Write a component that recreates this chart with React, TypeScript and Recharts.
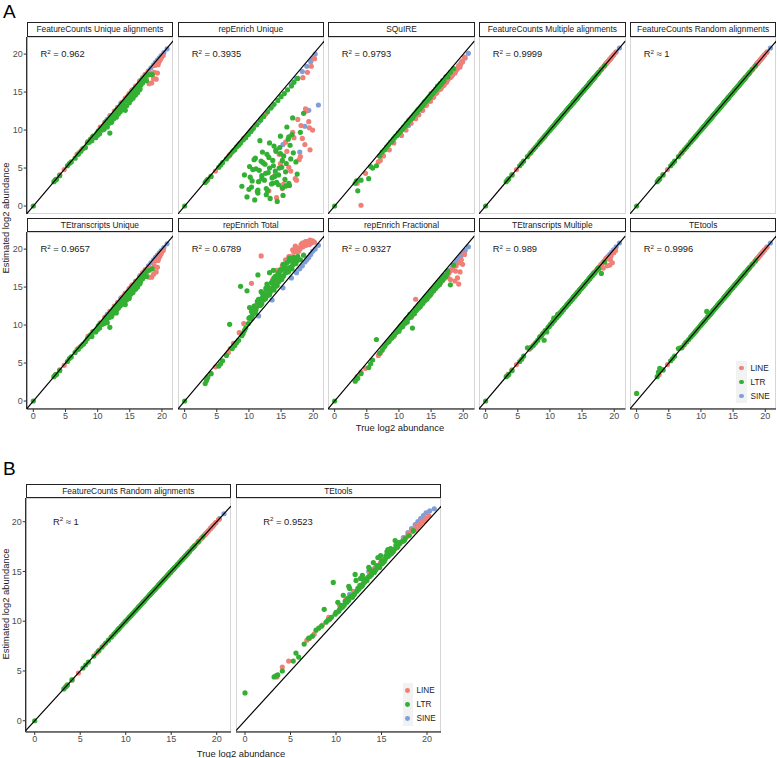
import { ScatterChart, Scatter, XAxis, YAxis } from "recharts";

const FONT = '"Liberation Sans", Arial, Helvetica, sans-serif';

const TYPES = ["LINE", "LTR", "SINE"];
const TYPE_COLORS: Record<string, string> = {
  LINE: "#F07F76",
  LTR: "#33B033",
  SINE: "#7F9FD9",
};
const AXIS_TICKS = [0, 5, 10, 15, 20];

// true log2 abundance per TE class (shared by every method)
const trueLINE = [
  3.5, 4.1, 4.8, 6.8, 7.1, 7.6, 8.5, 9.2, 10.4, 11.1, 11.9, 12.6, 13.1, 13.7, 14.3, 14.9,
  15.4, 15.9, 16.5, 17.0, 17.4, 17.8, 18.1, 18.4, 18.7, 18.9, 19.1, 19.3, 19.5, 19.7, 19.9, 20.2,
  14.1, 14.7, 15.2, 15.7, 16.2, 16.8, 17.2, 17.6, 18.0, 18.3, 18.8, 19.4,
];
const trueLTR = [
  0.0, 3.2, 3.4, 3.6, 4.1, 5.3, 5.6, 5.9, 6.5, 7.0,
  7.4, 7.8, 8.1, 8.4, 8.7, 8.9, 9.1, 9.3, 9.5, 9.7,
  9.9, 10.1, 10.3, 10.5, 10.7, 10.9, 11.0, 11.2, 11.4, 11.6,
  11.8, 12.0, 12.1, 12.3, 12.5, 12.7, 12.9, 13.0, 13.2, 13.4,
  13.5, 13.7, 13.9, 14.0, 14.2, 14.4, 14.5, 14.7, 14.9, 15.0,
  15.2, 15.4, 15.5, 15.7, 15.9, 16.0, 16.2, 16.4, 16.6, 16.8,
  17.0, 17.3, 17.6, 18.0, 18.5,
  10.0, 10.6, 11.3, 11.9, 12.4, 12.8, 13.3, 13.8, 14.3, 14.8, 15.3, 15.8, 16.3, 16.9, 17.5,
  10.2, 10.4, 10.8, 11.1, 11.5, 11.7, 12.2, 12.6, 12.9, 13.1,
  13.6, 13.9, 14.1, 14.6, 14.9, 15.1, 15.6, 16.1, 16.5, 16.7,
  11.4, 12.0, 12.7, 13.2, 13.7, 14.2, 14.6, 15.2, 15.7, 16.2,
];
const trueSINE = [11.5, 13.6, 15.3, 16.6, 17.4, 17.9, 18.3, 18.7, 19.0, 19.3, 19.6, 19.9, 20.3, 20.8];

// estimated log2 abundance, one set per method
const fcUniqueLINE = [
  3.5, 4.1, 4.8, 6.8, 7.0, 7.5, 8.5, 9.1, 10.4, 11.0, 11.9, 12.5, 13.0, 13.6, 14.2, 14.8,
  15.3, 15.8, 16.4, 16.9, 17.3, 17.6, 17.3, 16.2, 16.8, 18.5, 16.7, 17.5, 18.9, 19.2, 19.5, 19.8,
  13.8, 14.5, 14.9, 15.4, 15.9, 16.5, 16.6, 17.0, 16.1, 17.5, 17.6, 18.6,
];
const fcUniqueLTR = [
  0.0, 3.2, 3.4, 3.5, 4.0, 5.3, 5.6, 5.8, 6.3, 6.8,
  7.2, 7.6, 7.7, 8.3, 8.4, 8.8, 8.6, 9.2, 9.1, 9.0,
  9.6, 9.9, 9.5, 10.2, 10.0, 10.6, 10.1, 10.9, 10.5, 11.2,
  10.9, 11.6, 11.0, 11.9, 11.5, 12.3, 11.8, 12.7, 12.1, 13.0,
  12.4, 13.3, 12.7, 13.6, 13.0, 14.0, 13.2, 14.3, 13.6, 14.6,
  14.0, 15.0, 14.2, 15.3, 14.6, 15.6, 14.9, 16.0, 15.4, 16.4,
  16.2, 16.9, 16.5, 17.3, 17.3,
  9.3, 10.3, 11.1, 9.6, 12.0, 12.5, 12.5, 13.5, 12.6, 14.4, 14.5, 15.5, 15.4, 16.6, 17.2,
  9.8, 10.0, 10.1, 10.5, 10.4, 11.0, 11.1, 11.9, 11.7, 12.3,
  12.6, 13.2, 12.8, 13.9, 13.6, 14.2, 14.5, 15.1, 15.3, 15.9,
  10.9, 11.3, 12.1, 12.2, 13.0, 13.1, 14.1, 14.3, 14.8, 15.0,
];
const fcUniqueSINE = [11.4, 13.5, 15.2, 16.5, 17.3, 17.8, 18.2, 18.6, 18.9, 19.2, 19.5, 19.8, 20.2, 20.7];

const repUniqueLINE = [
  3.4, 3.9, 4.6, 6.5, 6.8, 7.3, 8.2, 8.9, 10.0, 10.7, 11.5, 12.1, 2.0, 3.8, 1.1, 5.6,
  2.9, 7.2, 4.6, 9.0, 3.4, 6.1, 10.6, 16.9, 8.1, 12.5, 17.6, 11.1, 7.4, 18.4, 10.0, 19.4,
  4.2, 6.8, 2.3, 8.4, 5.1, 9.7, 3.6, 11.4, 6.5, 8.9, 12.8, 10.3,
];
const repUniqueLTR = [
  0.0, 3.1, 3.3, 3.5, 3.9, 5.1, 5.4, 5.7, 6.2, 6.7,
  7.1, 7.4, 7.8, 8.0, 8.3, 2.6, 8.7, 4.1, 9.0, 1.2,
  9.4, 5.2, 9.8, 3.3, 10.2, 0.8, 6.3, 10.7, 2.1, 4.7,
  11.3, 3.6, 7.1, 11.8, 5.5, 1.5, 12.4, 4.4, 8.3, 12.9,
  2.9, 6.0, 13.4, 3.9, 7.4, 0.6, 13.9, 5.0, 9.2, 14.4,
  2.4, 6.6, 14.8, 4.5, 10.4, 15.3, 3.0, 8.0, 15.8, 11.6,
  16.3, 5.8, 16.8, 9.7, 12.2,
  2.2, 4.8, 1.9, 5.9, 3.4, 6.8, 1.0, 5.3, 3.1, 7.7, 1.4, 5.6, 2.7, 7.0, 4.2,
  3.8, 2.5, 6.1, 4.9, 3.2, 8.6, 5.7, 4.3, 2.0, 6.4,
  3.7, 7.9, 4.6, 2.8, 6.9, 5.1, 3.5, 8.8, 6.2, 9.4,
  1.7, 4.0, 2.3, 5.0, 3.0, 7.2, 4.1, 6.0, 2.6, 9.1,
];
const repUniqueSINE = [11.0, 13.1, 8.1, 16.0, 16.8, 7.1, 17.7, 10.5, 18.4, 12.6, 19.0, 19.4, 20.0, 13.3];

const squireLINE = [
  3.0, 0.1, 4.3, 5.8, 6.0, 6.6, 7.4, 8.3, 9.3, 10.0, 10.9, 11.5, 12.0, 12.6, 13.3, 13.8,
  14.4, 14.9, 15.4, 15.9, 16.3, 16.9, 17.0, 17.4, 17.5, 17.9, 18.1, 18.5, 18.3, 18.9, 19.1, 19.6,
  13.2, 13.8, 14.3, 14.8, 15.3, 15.8, 16.2, 16.6, 17.0, 17.3, 17.8, 18.4,
];
const squireLTR = [
  0.0, 3.0, 3.3, 2.0, 3.4, 3.6, 5.2, 5.0, 5.3, 6.6,
  7.1, 7.4, 7.8, 8.1, 8.4, 8.5, 8.8, 9.0, 9.2, 9.3,
  9.6, 9.7, 10.0, 10.1, 10.4, 10.5, 10.6, 10.9, 11.0, 11.3,
  11.4, 11.7, 11.6, 12.0, 12.1, 12.4, 12.5, 12.7, 12.8, 13.1,
  13.1, 13.4, 13.5, 13.7, 13.8, 14.1, 14.0, 14.4, 14.5, 14.8,
  14.8, 15.1, 15.1, 15.4, 15.5, 15.8, 15.7, 16.1, 16.1, 16.5,
  16.5, 17.0, 17.0, 17.6, 18.1,
  9.6, 10.2, 10.8, 11.5, 12.0, 12.3, 12.8, 13.4, 13.9, 14.3, 14.9, 15.3, 15.9, 16.4, 17.1,
  9.8, 10.0, 10.4, 10.8, 11.2, 11.4, 11.8, 12.2, 12.6, 12.8,
  13.2, 13.6, 13.8, 14.2, 14.5, 14.7, 15.2, 15.7, 16.0, 16.3,
  11.0, 11.6, 12.3, 12.8, 13.3, 13.8, 14.2, 14.8, 15.3, 15.8,
];
const squireSINE = [10.6, 12.6, 14.3, 15.6, 16.4, 16.9, 17.2, 17.6, 18.0, 18.3, 18.7, 19.0, 19.5, 20.1];

const fcMultiLINE = [
  3.5, 4.1, 4.8, 6.8, 7.1, 7.6, 8.5, 9.2, 10.4, 11.1, 11.9, 12.6, 13.1, 13.7, 14.3, 14.9,
  15.4, 15.9, 16.5, 17.0, 17.4, 17.8, 18.1, 18.4, 18.7, 18.9, 19.1, 19.3, 19.5, 19.7, 19.9, 20.2,
  14.1, 14.7, 15.2, 15.7, 16.2, 16.8, 17.2, 17.6, 18.0, 18.3, 18.8, 19.4,
];
const fcMultiLTR = [
  0.0, 3.2, 3.4, 3.6, 4.1, 5.3, 5.6, 5.9, 6.5, 7.0,
  7.4, 7.8, 8.1, 8.4, 8.7, 8.9, 9.1, 9.3, 9.5, 9.7,
  9.9, 10.1, 10.3, 10.5, 10.7, 10.9, 11.0, 11.2, 11.4, 11.6,
  11.8, 12.0, 12.1, 12.3, 12.5, 12.7, 12.9, 13.0, 13.2, 13.4,
  13.5, 13.7, 13.9, 14.0, 14.2, 14.4, 14.5, 14.7, 14.9, 15.0,
  15.2, 15.4, 15.5, 15.7, 15.9, 16.0, 16.2, 16.4, 16.6, 16.8,
  17.0, 17.3, 17.6, 18.0, 18.5,
  10.0, 10.6, 11.3, 11.9, 12.4, 12.8, 13.3, 13.8, 14.3, 14.8, 15.3, 15.8, 16.3, 16.9, 17.5,
  10.2, 10.4, 10.8, 11.1, 11.5, 11.7, 12.2, 12.6, 12.9, 13.1,
  13.6, 13.9, 14.1, 14.6, 14.9, 15.1, 15.6, 16.1, 16.5, 16.7,
  11.4, 12.0, 12.7, 13.2, 13.7, 14.2, 14.6, 15.2, 15.7, 16.2,
];
const fcMultiSINE = [11.5, 13.6, 15.3, 16.6, 17.4, 17.9, 18.3, 18.7, 19.0, 19.3, 19.6, 19.9, 20.3, 20.8];

const fcRandomLINE = [
  3.5, 4.1, 4.8, 6.8, 7.1, 7.6, 8.5, 9.2, 10.4, 11.1, 11.9, 12.6, 13.1, 13.7, 14.3, 14.9,
  15.4, 15.9, 16.5, 17.0, 17.4, 17.8, 18.1, 18.4, 18.7, 18.9, 19.1, 19.3, 19.5, 19.7, 19.9, 20.2,
  14.1, 14.7, 15.2, 15.7, 16.2, 16.8, 17.2, 17.6, 18.0, 18.3, 18.8, 19.4,
];
const fcRandomLTR = [
  0.0, 3.2, 3.4, 3.6, 4.1, 5.3, 5.6, 5.9, 6.5, 7.0,
  7.4, 7.8, 8.1, 8.4, 8.7, 8.9, 9.1, 9.3, 9.5, 9.7,
  9.9, 10.1, 10.3, 10.5, 10.7, 10.9, 11.0, 11.2, 11.4, 11.6,
  11.8, 12.0, 12.1, 12.3, 12.5, 12.7, 12.9, 13.0, 13.2, 13.4,
  13.5, 13.7, 13.9, 14.0, 14.2, 14.4, 14.5, 14.7, 14.9, 15.0,
  15.2, 15.4, 15.5, 15.7, 15.9, 16.0, 16.2, 16.4, 16.6, 16.8,
  17.0, 17.3, 17.6, 18.0, 18.5,
  10.0, 10.6, 11.3, 11.9, 12.4, 12.8, 13.3, 13.8, 14.3, 14.8, 15.3, 15.8, 16.3, 16.9, 17.5,
  10.2, 10.4, 10.8, 11.1, 11.5, 11.7, 12.2, 12.6, 12.9, 13.1,
  13.6, 13.9, 14.1, 14.6, 14.9, 15.1, 15.6, 16.1, 16.5, 16.7,
  11.4, 12.0, 12.7, 13.2, 13.7, 14.2, 14.6, 15.2, 15.7, 16.2,
];
const fcRandomSINE = [11.5, 13.6, 15.3, 16.6, 17.4, 17.9, 18.3, 18.7, 19.0, 19.3, 19.6, 19.9, 20.3, 20.8];

const teUniqueLINE = [
  3.5, 4.1, 4.7, 6.8, 7.0, 7.4, 8.5, 9.1, 10.3, 11.0, 11.8, 12.5, 13.0, 13.6, 14.2, 14.8,
  15.3, 15.8, 16.3, 16.9, 17.2, 17.5, 17.4, 16.3, 16.7, 18.4, 17.0, 17.6, 18.8, 19.1, 19.4, 19.8,
  13.9, 14.4, 15.0, 15.3, 15.8, 16.4, 16.7, 16.9, 16.3, 17.4, 17.8, 18.5,
];
const teUniqueLTR = [
  0.0, 3.2, 3.4, 3.5, 4.0, 5.2, 5.6, 5.8, 6.4, 6.8,
  7.2, 7.5, 7.8, 8.2, 8.5, 8.7, 8.5, 9.1, 9.2, 9.1,
  9.5, 9.9, 9.6, 10.2, 10.1, 10.5, 10.2, 10.8, 10.6, 11.1,
  11.0, 11.5, 11.1, 11.8, 11.6, 12.2, 11.9, 12.6, 12.2, 12.9,
  12.5, 13.2, 12.8, 13.5, 13.1, 13.9, 13.3, 14.2, 13.7, 14.5,
  14.1, 14.9, 14.3, 15.2, 14.7, 15.5, 15.0, 15.9, 15.5, 16.3,
  16.1, 16.8, 16.4, 17.2, 17.4,
  9.4, 10.2, 11.0, 9.7, 12.1, 12.4, 12.6, 13.4, 12.7, 14.3, 14.6, 15.4, 15.5, 16.5, 17.1,
  9.9, 10.1, 10.2, 10.6, 10.3, 11.1, 11.2, 11.8, 11.6, 12.4,
  12.7, 13.1, 12.9, 13.8, 13.5, 14.3, 14.6, 15.0, 15.4, 15.8,
  11.0, 11.2, 12.2, 12.3, 12.9, 13.2, 14.0, 14.4, 14.9, 15.1,
];
const teUniqueSINE = [11.4, 13.5, 15.2, 16.5, 17.3, 17.8, 18.2, 18.6, 18.9, 19.2, 19.5, 19.8, 20.2, 20.7];

const repTotalLINE = [
  3.0, 3.6, 4.5, 6.4, 6.9, 7.6, 9.0, 10.2, 15.5, 12.6, 19.1, 14.8, 14.1, 16.0, 17.2, 16.4,
  18.0, 17.5, 19.0, 19.6, 20.2, 19.8, 20.6, 20.3, 20.9, 20.5, 21.0, 20.7, 21.2, 20.8, 21.1, 20.9,
  15.5, 16.9, 17.8, 18.6, 19.0, 19.9, 20.4, 19.6, 20.1, 20.8, 21.0, 20.6,
];
const repTotalLTR = [
  0.0, 2.3, 2.7, 3.1, 3.6, 4.6, 4.9, 5.3, 6.0, 10.1,
  6.9, 7.3, 7.7, 8.0, 15.1, 8.6, 8.9, 9.3, 9.6, 14.5,
  10.2, 12.3, 10.8, 11.2, 11.5, 12.0, 11.6, 12.4, 16.6, 12.9,
  12.6, 13.5, 14.2, 13.3, 14.0, 14.6, 13.9, 15.0, 16.9, 14.7,
  15.6, 14.9, 16.2, 15.3, 16.0, 15.2, 16.7, 15.8, 17.1, 16.3,
  17.4, 16.5, 17.9, 16.9, 18.2, 17.3, 18.4, 17.6, 18.7, 17.9,
  18.9, 18.1, 19.0, 18.6, 19.2,
  10.9, 11.9, 13.1, 14.4, 13.6, 15.4, 14.3, 17.2, 15.9, 16.4, 18.0, 17.0, 18.8, 18.3, 18.5,
  11.0, 11.8, 12.5, 12.0, 13.4, 12.6, 13.9, 13.5, 14.8, 14.0,
  15.5, 14.6, 16.4, 15.7, 17.3, 16.0, 17.8, 17.0, 18.5, 17.4,
  13.2, 12.8, 14.9, 14.0, 15.8, 15.1, 16.9, 16.3, 17.5, 17.1,
];
const repTotalSINE = [11.2, 13.3, 14.9, 16.2, 16.9, 17.4, 17.8, 18.3, 18.6, 18.9, 19.3, 19.7, 20.0, 20.5];

const repFracLINE = [
  3.2, 3.8, 4.3, 6.0, 6.3, 7.0, 7.9, 8.5, 9.7, 10.3, 11.0, 13.4, 12.3, 12.8, 13.4, 14.0,
  14.6, 15.1, 15.6, 16.2, 16.4, 16.9, 17.2, 17.3, 15.8, 17.8, 16.2, 15.4, 17.0, 18.6, 18.0, 19.3,
  13.3, 13.9, 14.4, 14.9, 15.4, 15.9, 16.2, 16.4, 16.0, 17.4, 17.1, 18.2,
];
const repFracLTR = [
  0.0, 2.6, 2.9, 3.0, 3.6, 4.4, 4.9, 5.4, 8.1, 6.3,
  6.7, 7.2, 7.6, 7.8, 8.2, 8.3, 8.6, 8.7, 9.0, 9.1,
  9.4, 9.5, 9.8, 9.9, 10.2, 10.2, 10.5, 10.6, 11.0, 11.0,
  11.3, 11.2, 9.6, 11.6, 11.9, 11.9, 12.4, 12.2, 12.7, 12.6,
  13.0, 12.9, 13.3, 13.2, 13.7, 13.5, 14.0, 13.8, 14.4, 14.1,
  14.7, 14.5, 15.0, 14.8, 15.4, 15.1, 15.7, 15.5, 16.1, 15.9,
  16.5, 16.4, 17.1, 15.3, 17.9,
  9.2, 9.8, 10.4, 11.3, 11.5, 12.1, 12.4, 13.1, 13.4, 14.0, 14.6, 15.2, 15.3, 16.2, 16.8,
  9.8, 10.0, 10.3, 10.8, 11.0, 11.4, 11.7, 12.2, 12.3, 12.7,
  13.1, 13.4, 13.6, 14.0, 14.3, 14.6, 15.0, 15.6, 15.9, 16.1,
  10.9, 11.5, 12.1, 12.6, 13.0, 13.6, 14.0, 14.6, 15.0, 15.6,
];
const repFracSINE = [10.9, 12.9, 14.6, 15.9, 16.7, 17.2, 17.6, 18.0, 18.4, 18.7, 19.0, 19.4, 19.8, 20.3];

const teMultiLINE = [
  3.5, 4.1, 4.8, 6.8, 7.1, 7.5, 8.5, 9.2, 10.4, 11.0, 11.9, 12.6, 13.1, 13.7, 14.3, 14.9,
  15.4, 15.9, 16.5, 17.0, 17.4, 17.8, 18.1, 18.4, 18.7, 17.8, 18.9, 17.9, 19.1, 18.2, 19.5, 19.8,
  14.1, 14.7, 15.2, 15.7, 16.2, 16.8, 17.2, 17.6, 18.0, 17.5, 18.8, 18.6,
];
const teMultiLTR = [
  0.0, 3.2, 3.3, 3.5, 4.0, 5.2, 5.5, 5.9, 7.0, 7.0,
  7.3, 7.7, 8.0, 8.4, 8.6, 8.9, 8.0, 9.3, 9.1, 9.7,
  9.8, 10.1, 10.2, 10.5, 10.6, 10.9, 11.0, 11.4, 11.3, 11.6,
  11.7, 12.0, 12.0, 12.3, 12.4, 12.7, 12.8, 13.0, 13.1, 13.4,
  13.4, 13.7, 13.8, 14.0, 14.1, 14.4, 14.4, 14.7, 14.8, 15.0,
  15.1, 15.4, 15.4, 15.7, 15.8, 16.0, 16.1, 16.4, 16.5, 16.8,
  16.9, 17.2, 17.4, 16.8, 18.3,
  10.0, 10.9, 11.3, 11.9, 12.4, 12.8, 13.3, 13.8, 14.3, 14.8, 15.3, 15.8, 16.3, 16.9, 17.5,
  10.2, 10.4, 10.8, 11.1, 11.5, 11.7, 12.2, 12.6, 12.9, 13.1,
  13.6, 13.9, 14.1, 14.6, 14.9, 15.1, 15.6, 16.1, 16.5, 16.7,
  11.4, 12.0, 12.7, 13.2, 13.7, 14.2, 14.6, 15.2, 15.7, 16.2,
];
const teMultiSINE = [11.5, 13.6, 15.3, 16.6, 17.4, 17.9, 18.3, 18.7, 19.0, 19.3, 19.6, 19.9, 20.3, 20.8];

const tetoolsLINE = [
  3.5, 4.1, 4.8, 7.0, 7.1, 7.7, 8.5, 9.2, 10.4, 11.1, 11.9, 12.6, 13.1, 13.7, 14.3, 14.9,
  15.4, 15.9, 16.5, 17.0, 17.4, 17.8, 18.1, 18.4, 18.7, 18.9, 19.1, 19.3, 19.5, 19.7, 19.9, 20.2,
  14.1, 14.7, 15.2, 15.7, 16.2, 16.8, 17.2, 17.6, 18.0, 18.3, 18.8, 19.4,
];
const tetoolsLTR = [
  1.0, 3.2, 3.8, 4.3, 4.1, 5.3, 5.6, 5.9, 6.9, 7.0,
  7.4, 7.8, 8.1, 8.4, 8.7, 8.9, 9.1, 9.3, 9.5, 9.7,
  9.9, 10.1, 10.3, 10.5, 10.7, 11.8, 11.0, 11.2, 11.4, 11.6,
  11.8, 12.0, 12.1, 12.3, 12.5, 12.7, 12.9, 13.0, 13.2, 13.4,
  13.5, 13.7, 13.9, 14.0, 14.2, 14.4, 14.5, 14.7, 14.9, 15.0,
  15.2, 15.4, 15.5, 15.7, 15.9, 16.0, 16.2, 16.4, 16.6, 16.8,
  17.0, 17.3, 17.6, 18.0, 18.5,
  10.0, 10.6, 11.3, 11.9, 12.4, 12.8, 13.3, 13.8, 14.3, 14.8, 15.3, 15.8, 16.3, 16.9, 17.5,
  10.2, 10.4, 10.8, 11.1, 11.5, 11.7, 12.2, 12.6, 12.9, 13.1,
  13.6, 13.9, 14.1, 14.6, 14.9, 15.1, 15.6, 16.1, 16.5, 16.7,
  11.4, 12.0, 12.7, 13.2, 13.7, 14.2, 14.6, 15.2, 15.7, 16.2,
];
const tetoolsSINE = [11.5, 13.6, 15.3, 16.6, 17.4, 17.9, 18.3, 18.7, 19.0, 19.3, 19.6, 19.9, 20.3, 20.8];

const bFcRandomLINE = [
  3.5, 4.1, 4.8, 6.8, 7.1, 7.6, 8.5, 9.2, 10.4, 11.1, 11.9, 12.6, 13.1, 13.7, 14.3, 14.9,
  15.4, 15.9, 16.5, 17.0, 17.4, 17.8, 18.1, 18.4, 18.7, 18.9, 19.1, 19.3, 19.5, 19.7, 19.9, 20.2,
  14.1, 14.7, 15.2, 15.7, 16.2, 16.8, 17.2, 17.6, 18.0, 18.3, 18.8, 19.4,
];
const bFcRandomLTR = [
  0.0, 3.2, 3.4, 3.6, 4.1, 5.3, 5.6, 5.9, 6.5, 7.0,
  7.4, 7.8, 8.1, 8.4, 8.7, 8.9, 9.1, 9.3, 9.5, 9.7,
  9.9, 10.1, 10.3, 10.5, 10.7, 10.9, 11.0, 11.2, 11.4, 11.6,
  11.8, 12.0, 12.1, 12.3, 12.5, 12.7, 12.9, 13.0, 13.2, 13.4,
  13.5, 13.7, 13.9, 14.0, 14.2, 14.4, 14.5, 14.7, 14.9, 15.0,
  15.2, 15.4, 15.5, 15.7, 15.9, 16.0, 16.2, 16.4, 16.6, 16.8,
  17.0, 17.3, 17.6, 18.0, 18.5,
  10.0, 10.6, 11.3, 11.9, 12.4, 12.8, 13.3, 13.8, 14.3, 14.8, 15.3, 15.8, 16.3, 16.9, 17.5,
  10.2, 10.4, 10.8, 11.1, 11.5, 11.7, 12.2, 12.6, 12.9, 13.1,
  13.6, 13.9, 14.1, 14.6, 14.9, 15.1, 15.6, 16.1, 16.5, 16.7,
  11.4, 12.0, 12.7, 13.2, 13.7, 14.2, 14.6, 15.2, 15.7, 16.2,
];
const bFcRandomSINE = [11.5, 13.6, 15.3, 16.6, 17.4, 17.9, 18.3, 18.7, 19.0, 19.3, 19.6, 19.9, 20.3, 20.8];

const bTetoolsLINE = [
  4.4, 5.4, 6.0, 8.1, 8.3, 8.7, 9.6, 10.4, 11.6, 12.2, 13.0, 13.6, 14.2, 14.7, 15.4, 15.9,
  16.3, 16.8, 17.3, 17.8, 18.1, 18.5, 18.7, 19.0, 19.2, 19.4, 19.6, 19.8, 20.0, 20.1, 20.3, 20.6,
  15.2, 15.6, 16.3, 16.7, 17.1, 17.7, 18.0, 18.4, 18.8, 19.1, 19.5, 20.0,
];
const bTetoolsLTR = [
  2.8, 4.4, 4.5, 4.6, 5.0, 6.0, 6.8, 6.4, 7.7, 8.3,
  8.5, 9.1, 9.3, 9.5, 11.2, 9.9, 10.1, 10.2, 10.4, 13.9,
  10.7, 10.9, 11.0, 11.3, 11.4, 11.6, 12.0, 11.9, 12.1, 12.5,
  12.4, 12.7, 14.7, 13.0, 13.2, 13.6, 13.6, 13.8, 14.0, 14.1,
  14.4, 14.5, 14.7, 15.0, 15.0, 15.2, 15.6, 15.5, 15.7, 16.1,
  16.0, 16.2, 16.6, 16.5, 16.7, 17.3, 17.0, 17.2, 17.6, 17.5,
  17.8, 18.0, 18.3, 18.6, 19.1,
  10.9, 11.6, 12.3, 12.6, 13.3, 13.5, 14.2, 14.6, 15.1, 15.4, 16.0, 16.6, 17.0, 17.9, 18.1,
  11.9, 11.2, 12.6, 12.0, 13.3, 12.5, 14.1, 13.4, 14.6, 13.9,
  15.4, 14.7, 15.9, 15.4, 16.6, 15.8, 17.0, 16.8, 18.1, 17.4,
  13.5, 12.7, 14.3, 14.2, 15.2, 14.9, 16.4, 16.0, 17.2, 17.0,
];
const bTetoolsSINE = [12.7, 15.0, 16.4, 17.7, 18.4, 18.9, 19.3, 19.7, 20.0, 20.3, 20.6, 20.9, 21.1, 21.3];

type PanelDef = {
  title: string;
  r2: string;
  LINE: number[];
  LTR: number[];
  SINE: number[];
};

const PANELS_A: PanelDef[][] = [
  [
    { title: "FeatureCounts Unique alignments", r2: " = 0.962", LINE: fcUniqueLINE, LTR: fcUniqueLTR, SINE: fcUniqueSINE },
    { title: "repEnrich Unique", r2: " = 0.3935", LINE: repUniqueLINE, LTR: repUniqueLTR, SINE: repUniqueSINE },
    { title: "SQuIRE", r2: " = 0.9793", LINE: squireLINE, LTR: squireLTR, SINE: squireSINE },
    { title: "FeatureCounts Multiple alignments", r2: " = 0.9999", LINE: fcMultiLINE, LTR: fcMultiLTR, SINE: fcMultiSINE },
    { title: "FeatureCounts Random alignments", r2: " \u2248 1", LINE: fcRandomLINE, LTR: fcRandomLTR, SINE: fcRandomSINE },
  ],
  [
    { title: "TEtranscripts Unique", r2: " = 0.9657", LINE: teUniqueLINE, LTR: teUniqueLTR, SINE: teUniqueSINE },
    { title: "repEnrich Total", r2: " = 0.6789", LINE: repTotalLINE, LTR: repTotalLTR, SINE: repTotalSINE },
    { title: "repEnrich Fractional", r2: " = 0.9327", LINE: repFracLINE, LTR: repFracLTR, SINE: repFracSINE },
    { title: "TEtranscripts Multiple", r2: " = 0.989", LINE: teMultiLINE, LTR: teMultiLTR, SINE: teMultiSINE },
    { title: "TEtools", r2: " = 0.9996", LINE: tetoolsLINE, LTR: tetoolsLTR, SINE: tetoolsSINE },
  ],
];

const PANELS_B: PanelDef[] = [
  { title: "FeatureCounts Random alignments", r2: " \u2248 1", LINE: bFcRandomLINE, LTR: bFcRandomLTR, SINE: bFcRandomSINE },
  { title: "TEtools", r2: " = 0.9523", LINE: bTetoolsLINE, LTR: bTetoolsLTR, SINE: bTetoolsSINE },
];

const TRUE_BY_TYPE: Record<string, number[]> = { LINE: trueLINE, LTR: trueLTR, SINE: trueSINE };
const DRAW_ORDER = ["SINE", "LINE", "LTR"];

const STRIP_H = 14.5;

function toPoints(xs: number[], ys: number[]) {
  return xs.map((x, i) => ({ x, y: ys[i] }));
}

const dotShape = (color: string) => (p: any) => (
  <circle cx={p.cx} cy={p.cy} r={2.6} fill={color} />
);

const r2Shape = (rest: string) => (p: any) => (
  <text x={p.cx} y={p.cy + 3.4} fontSize={9.4} fill="#1a1a1a" fontFamily={FONT} style={{ whiteSpace: "pre" }}>
    <tspan>R</tspan>
    <tspan dy={-3.6} fontSize={6.2}>2</tspan>
    <tspan dy={3.6}>{rest}</tspan>
  </text>
);

type PanelProps = {
  def: PanelDef;
  left: number;
  top: number;
  w: number;
  h: number;
  xDomain: [number, number];
  yDomain: [number, number];
  showX: boolean;
  showY: boolean;
  r2x: number;
};

function Panel({ def, left, top, w, h, xDomain, yDomain, showX, showY, r2x }: PanelProps) {
  const yw = showY ? left : 0;
  const xh = showX ? 16 : 0;
  const lo = Math.max(xDomain[0], yDomain[0]);
  const hi = Math.min(xDomain[1], yDomain[1]);
  const tickStyle = { fontSize: 9, fill: "#4d4d4d", fontFamily: FONT };

  return (
    <>
      <div
        style={{
          position: "absolute",
          left,
          top,
          width: w,
          height: h,
          border: "1px solid #d6d6d6",
          boxSizing: "border-box",
        }}
      />
      <div
        style={{
          position: "absolute",
          left,
          top: top - STRIP_H,
          width: w,
          height: STRIP_H,
          border: "1px solid #222",
          boxSizing: "border-box",
          background: "#fff",
          color: "#1a1a1a",
          fontSize: 8.4,
          lineHeight: `${STRIP_H - 2}px`,
          textAlign: "center",
          whiteSpace: "nowrap",
        }}
      >
        {def.title}
      </div>
      <div style={{ position: "absolute", left: left - yw, top }}>
        <ScatterChart width={w + yw} height={h + xh} margin={{ top: 0, right: 0, bottom: 0, left: 0 }}>
          <XAxis
            type="number"
            dataKey="x"
            domain={xDomain}
            ticks={AXIS_TICKS}
            allowDataOverflow
            hide={!showX}
            height={xh}
            tickSize={3}
            tickMargin={1}
            tick={tickStyle}
            tickLine={{ stroke: "#333" }}
            axisLine={{ stroke: "#000" }}
          />
          <YAxis
            type="number"
            dataKey="y"
            domain={yDomain}
            ticks={AXIS_TICKS}
            allowDataOverflow
            hide={!showY}
            width={yw}
            tickSize={3}
            tickMargin={1}
            tick={tickStyle}
            tickLine={{ stroke: "#333" }}
            axisLine={{ stroke: "#000" }}
          />
          {DRAW_ORDER.map((t) => (
            <Scatter
              key={t}
              name={t}
              data={toPoints(TRUE_BY_TYPE[t], def[t as "LINE" | "LTR" | "SINE"])}
              shape={dotShape(TYPE_COLORS[t])}
              isAnimationActive={false}
            />
          ))}
          {/* identity line y = x across the panel */}
          <Scatter
            data={[{ x: lo, y: lo }, { x: hi, y: hi }]}
            line={{ stroke: "#000", strokeWidth: 1.2 }}
            shape={() => <g />}
            isAnimationActive={false}
          />
          <Scatter data={[{ x: r2x, y: 20 }]} shape={r2Shape(def.r2)} isAnimationActive={false} />
        </ScatterChart>
      </div>
    </>
  );
}

function TypeLegend({ left, top, keyW, rowH }: { left: number; top: number; keyW: number; rowH: number }) {
  return (
    <div style={{ position: "absolute", left, top }}>
      {TYPES.map((t) => (
        <div key={t} style={{ display: "flex", alignItems: "center", height: rowH }}>
          <div
            style={{
              width: keyW,
              height: rowH,
              background: "#f2f2f2",
              display: "flex",
              alignItems: "center",
              justifyContent: "center",
            }}
          >
            <span style={{ width: 4.8, height: 4.8, borderRadius: "50%", background: TYPE_COLORS[t] }} />
          </div>
          <span style={{ marginLeft: 3.5, fontSize: 8.2, color: "#1a1a1a" }}>{t}</span>
        </div>
      ))}
    </div>
  );
}

const A_LEFT0 = 26.7;
const A_STEP = 150.8;
const A_W = 146.5;
const A_H = 177;
const A_TOPS = [36.5, 232];
const A_X_DOMAIN: [number, number] = [-1.03, 21.75];
const A_Y_DOMAIN: [number, number] = [-1.05, 22.25];

const B_LEFTS = [25.7, 235.7];
const B_W = 205.3;
const B_H = 234;
const B_TOP = 498;
const B_X_DOMAIN: [number, number] = [-0.99, 21.57];
const B_Y_DOMAIN: [number, number] = [-1.13, 22.38];

export default function App() {
  const axisTitle = { position: "absolute" as const, fontSize: 9.4, color: "#1a1a1a", whiteSpace: "nowrap" as const };
  return (
    <div
      style={{
        position: "absolute",
        left: 0,
        top: 0,
        width: 777,
        height: 758,
        background: "#fff",
        fontFamily: FONT,
        overflow: "hidden",
      }}
    >
      <div style={{ position: "absolute", left: 3, top: 1, fontSize: 19 }}>A</div>
      <div style={{ position: "absolute", left: 3, top: 458, fontSize: 19 }}>B</div>

      {PANELS_A.map((row, r) =>
        row.map((def, c) => (
          <Panel
            key={`a-${r}-${c}`}
            def={def}
            left={A_LEFT0 + c * A_STEP}
            top={A_TOPS[r]}
            w={A_W}
            h={A_H}
            xDomain={A_X_DOMAIN}
            yDomain={A_Y_DOMAIN}
            showX={r === 1}
            showY={c === 0}
            r2x={1.1}
          />
        ))
      )}
      <TypeLegend left={735.5} top={361} keyW={11.5} rowH={14} />
      <div style={{ ...axisTitle, left: 400, top: 427, transform: "translate(-50%, -50%)" }}>True log2 abundance</div>
      <div style={{ ...axisTitle, left: 5, top: 218, transform: "translate(-50%, -50%) rotate(-90deg)" }}>
        Estimated log2 abundance
      </div>

      {PANELS_B.map((def, c) => (
        <Panel
          key={`b-${c}`}
          def={def}
          left={B_LEFTS[c]}
          top={B_TOP}
          w={B_W}
          h={B_H}
          xDomain={B_X_DOMAIN}
          yDomain={B_Y_DOMAIN}
          showX
          showY={c === 0}
          r2x={2.0}
        />
      ))}
      <TypeLegend left={402.7} top={683} keyW={10.3} rowH={14.3} />
      <div style={{ ...axisTitle, left: 241, top: 752.5, transform: "translate(-50%, -50%)" }}>True log2 abundance</div>
      <div style={{ ...axisTitle, left: 5, top: 604, transform: "translate(-50%, -50%) rotate(-90deg)" }}>
        Estimated log2 abundance
      </div>
    </div>
  );
}
